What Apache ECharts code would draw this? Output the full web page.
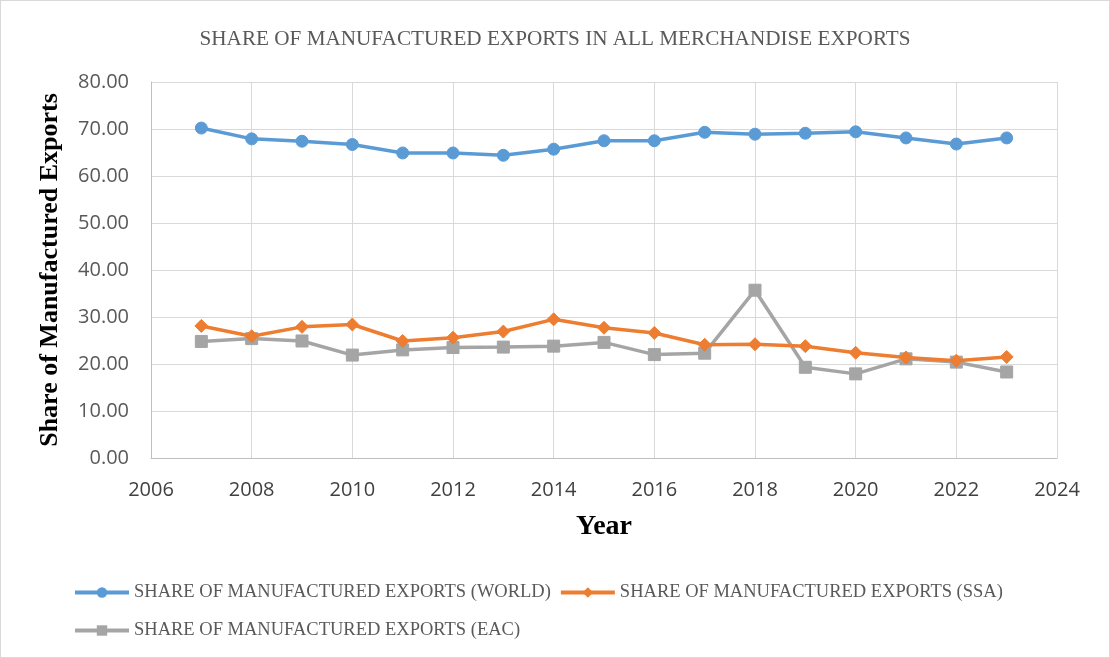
<!DOCTYPE html>
<html><head><meta charset="utf-8">
<script src="https://cdn.jsdelivr.net/npm/echarts@6/dist/echarts.min.js"></script>
<style>
html,body{margin:0;padding:0;background:#fff;}
#c{width:1108px;height:656px;border:1px solid #d9d9d9;}
</style></head>
<body><div id="c"></div>
<script>
const years = [2007,2008,2009,2010,2011,2012,2013,2014,2015,2016,2017,2018,2019,2020,2021,2022,2023];
const world = [70.2,67.9,67.4,66.7,64.9,64.9,64.4,65.7,67.5,67.5,69.3,68.9,69.1,69.4,68.1,66.8,68.1];
const ssa = [28.1,25.9,27.9,28.4,24.9,25.6,26.9,29.5,27.7,26.6,24.1,24.2,23.8,22.4,21.4,20.7,21.5];
const eac = [24.8,25.4,24.9,21.9,23.0,23.5,23.6,23.8,24.6,22.0,22.3,35.7,19.3,17.9,21.1,20.4,18.3];
const names = ['SHARE OF MANUFACTURED EXPORTS (WORLD)','SHARE OF MANUFACTURED EXPORTS (SSA)','SHARE OF MANUFACTURED EXPORTS (EAC)'];
const colors = ['#5B9BD5','#ED7D31','#A5A5A5'];
const symbols = ['circle','diamond','rect'];
const symSizes = [12,13,12];
const datasets = [world, ssa, eac];

const chart = echarts.init(document.getElementById('c'));
const serif = '"Liberation Serif","Times New Roman",serif';
const sans = '"Open Sans","Liberation Sans",sans-serif';
const legendText = {fontFamily: serif, fontSize: 18.5, color:'#595959'};
const legendCommon = {left:67, itemWidth:54, itemHeight:13, itemGap:8, textStyle:legendText, lineStyle:{width:4}};
chart.setOption({
  animation:false,
  title:{text:'SHARE OF MANUFACTURED EXPORTS IN ALL MERCHANDISE EXPORTS', left:'center', top:23,
    textStyle:{fontFamily:serif, fontSize:21.2, fontWeight:'normal', color:'#595959'}},
  legend:[
    Object.assign({data:[names[0],names[1]], top:577}, legendCommon),
    Object.assign({data:[names[2]], top:615}, legendCommon)
  ],
  grid:{left:150, right:52, top:81, bottom:199, containLabel:false},
  xAxis:{type:'value', min:2006, max:2024, interval:2,
    name:'Year', nameLocation:'middle', nameGap:55,
    nameTextStyle:{fontFamily:serif, fontSize:28, fontWeight:'bold', color:'#000'},
    axisLine:{show:true, lineStyle:{color:'#bfbfbf', width:1}},
    axisTick:{show:false},
    splitLine:{show:true, lineStyle:{color:'#d9d9d9', width:1}},
    axisLabel:{fontFamily:sans, fontSize:20, color:'#404040', margin:22, formatter:v=>String(v)}},
  yAxis:{type:'value', min:0, max:80, interval:10,
    name:'Share of Manufactured Exports', nameLocation:'middle', nameGap:88,
    nameTextStyle:{fontFamily:serif, fontSize:26, fontWeight:'bold', color:'#000'},
    axisLine:{show:true, lineStyle:{color:'#bfbfbf', width:1}},
    axisTick:{show:false},
    splitLine:{show:true, lineStyle:{color:'#d9d9d9', width:1}},
    axisLabel:{fontFamily:sans, fontSize:20, color:'#595959', margin:22, formatter:v=>v.toFixed(2)}},
  series: datasets.map((d,i)=>({
    name:names[i], type:'line', data:years.map((y,j)=>[y,d[j]]),
    symbol:symbols[i], symbolSize:symSizes[i], showSymbol:true,
    lineStyle:{color:colors[i], width:3.5},
    itemStyle:{color:colors[i], borderColor:colors[i]},
    z: 3-i
  }))
});
</script></body></html>
